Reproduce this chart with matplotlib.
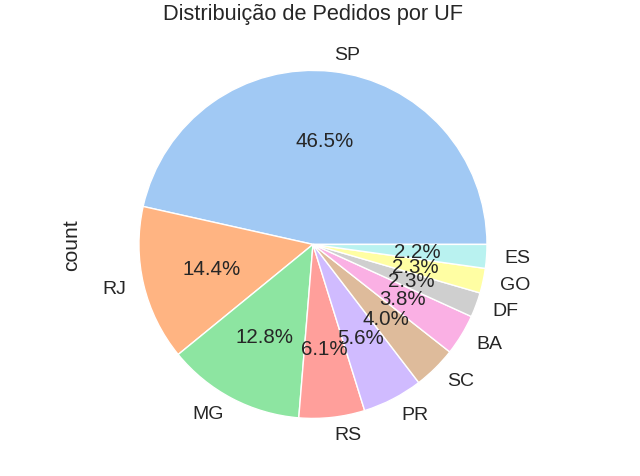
import matplotlib
matplotlib.use("Agg")
import matplotlib.pyplot as plt
import seaborn as sns
import pandas as pd

ufs = ["SP", "RJ", "MG", "RS", "PR", "SC", "BA", "DF", "GO", "ES"]
counts = [46.5, 14.4, 12.8, 6.1, 5.6, 4.0, 3.8, 2.3, 2.3, 2.2]

sns.set_theme(style="whitegrid", palette="pastel", font_scale=1.2)
plt.rcParams['font.family'] = ['Liberation Sans', 'DejaVu Sans']

s = pd.Series(counts, index=ufs, name="count")
fig = plt.figure(figsize=(6.4, 4.77), dpi=100)
ax = fig.add_axes([0.149, 0.0295, 0.680, 0.912])
s.plot.pie(ax=ax, autopct="%1.1f%%", colors=sns.color_palette("pastel"),
           textprops={"fontsize": 14})
for t in ax.texts:
    if t.get_text().endswith("%"):
        t.set_fontsize(14.8)
ax.set_title("Distribuição de Pedidos por UF", fontsize=15.7)
ax.set_ylabel("count", fontsize=15.2, labelpad=10)
fig.savefig("out.png")
